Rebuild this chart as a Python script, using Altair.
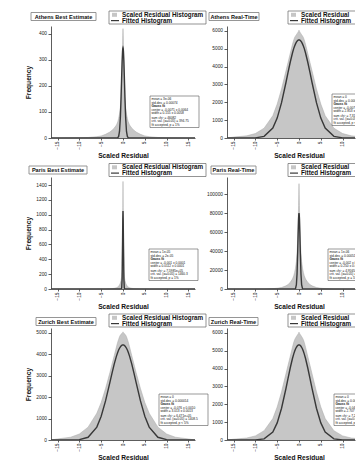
import altair as alt
import pandas as pd

FONT = "Liberation Sans"
GRAY_FILL = "#c6c6c6"
GRAY_EDGE = "#a9a9a9"
DARK = "#383838"
INK = "#111111"

# |x| sample positions (scaled residual); the histograms are symmetric
X_HALF = [0, 0.05, 0.1, 0.2, 0.3, 0.45, 0.6, 0.8, 1, 1.2, 1.5, 2, 2.5, 3, 4, 5, 6, 8, 10, 12, 15, 16.5]
X_TICKS = [-15, -10, -5, 0, 5, 10, 15]

ATH_BE_HIST = [420, 395, 360, 290, 225, 160, 118, 92, 75, 62, 50, 38, 30, 23, 14, 8, 5, 2, 1, 0.5, 0, 0]
ATH_BE_FIT = [346, 343, 332, 294, 240, 152, 80, 25, 6, 1, 0, 0, 0, 0, 0, 0, 0, 0, 0, 0, 0, 0]
ATH_RT_HIST = [6050, 6020, 5990, 5950, 5900, 5850, 5790, 5720, 5640, 5500, 5250, 4750, 4250, 3750, 2750, 1900, 1250, 550, 250, 120, 50, 0]
ATH_RT_FIT = [5500, 5500, 5496, 5486, 5468, 5430, 5374, 5277, 5160, 5025, 4765, 4262, 3692, 3098, 1982, 1117, 554, 93, 9, 0, 0, 0]
PAR_BE_HIST = [1450, 1100, 650, 260, 170, 115, 80, 55, 38, 26, 16, 9, 5, 3, 1.5, 1, 0.5, 0, 0, 0, 0, 0]
PAR_BE_FIT = [1050, 927, 637, 142, 12, 0, 0, 0, 0, 0, 0, 0, 0, 0, 0, 0, 0, 0, 0, 0, 0, 0]
PAR_RT_HIST = [111000, 100000, 88000, 68000, 52000, 38000, 29000, 22000, 17500, 14000, 10500, 7000, 4800, 3300, 1600, 800, 400, 120, 40, 15, 5, 0]
PAR_RT_FIT = [80000, 78400, 73850, 58100, 38950, 15850, 4490, 480, 27, 0, 0, 0, 0, 0, 0, 0, 0, 0, 0, 0, 0, 0]
ZUR_BE_HIST = [5050, 5030, 5010, 4990, 4970, 4940, 4900, 4820, 4700, 4580, 4350, 3950, 3550, 3150, 2400, 1750, 1250, 600, 280, 130, 50, 0]
ZUR_BE_FIT = [4440, 4440, 4438, 4430, 4418, 4390, 4352, 4284, 4200, 4100, 3918, 3557, 3138, 2693, 1825, 1107, 601, 127, 17, 1, 0, 0]
ZUR_RT_HIST = [6050, 6020, 5990, 5950, 5910, 5860, 5800, 5720, 5620, 5480, 5200, 4700, 4200, 3700, 2700, 1850, 1200, 520, 230, 110, 45, 0]
ZUR_RT_FIT = [5330, 5330, 5326, 5315, 5297, 5256, 5200, 5101, 4977, 4830, 4568, 4052, 3472, 2875, 1779, 959, 451, 66, 6, 0, 0, 0]

TITLES = ["Athens Best Estimate", "Athens Real-Time", "Paris Best Estimate",
          "Paris Real-Time", "Zurich Best Estimate", "Zurich Real-Time"]
Y_TOPS = [430, 6280, 1510, 118000, 5230, 6280]
Y_TICKS = [
    [0, 100, 200, 300, 400],
    [0, 1000, 2000, 3000, 4000, 5000, 6000],
    [0, 200, 400, 600, 800, 1000, 1200, 1400],
    [0, 20000, 40000, 60000, 80000, 100000],
    [0, 1000, 2000, 3000, 4000, 5000],
    [0, 1000, 2000, 3000, 4000, 5000, 6000],
]
LEGEND_LABELS = ["Scaled Residual Histogram", "Fitted Histogram"]
STATS = [
    ["mean = 3e-06", "std.dev. = 0.00074", "Gauss fit", "center = -0.0071 ± 0.0064",
     "width = 0.155 ± 0.0058", "sum chi² = 46082", "crit. val. (α=0.05) = 394.75", "fit accepted, p = 1%"],
    ["mean = 0", "std.dev. = 0.00012", "Gauss fit", "center = -0.007 ± 0.0043",
     "width = 2.853 ± 0.0043", "sum chi² = 7.3133e+05", "crit. val. (α=0.05) = 1424.7", "fit accepted, p < 1%"],
    ["mean = 1e-05", "std.dev. = 2e-05", "Gauss fit", "center = -0.001 ± 0.0001",
     "width = 0.0112 ± 0.0001", "sum chi² = 7.5985e+05", "crit. val. (α=0.05) = 1460.3", "fit accepted, p = 1%"],
    ["mean = 1e-06", "std.dev. = 0.00051", "Gauss fit", "center = -0.002 ± 0.0001",
     "width = 0.250 ± 0.0001", "sum chi² = 4.9565e+07", "crit. val. (α=0.05) = 1360.5", "fit accepted, p = 5%"],
    ["mean = 0", "std.dev. = 0.000014", "Gauss fit", "center = -0.076 ± 0.0010",
     "width = 3.013 ± 0.0013", "sum chi² = 6.471e+05", "crit. val. (α=0.05) = 1408.5", "fit accepted, p < 5%"],
    ["mean = 0", "std.dev. = 0.000021", "Gauss fit", "center = -0.045 ± 0.0009",
     "width = 2.707 ± 0.0012", "sum chi² = 7.2838e+05", "crit. val. (α=0.05) = 1412.2", "fit accepted, p < 5%"],
]
HISTS = [ATH_BE_HIST, ATH_RT_HIST, PAR_BE_HIST, PAR_RT_HIST, ZUR_BE_HIST, ZUR_RT_HIST]
FITS = [ATH_BE_FIT, ATH_RT_FIT, PAR_BE_FIT, PAR_RT_FIT, ZUR_BE_FIT, ZUR_RT_FIT]

# layout (pixels)
H = 112
W_LEFT, W_RIGHT = 144, 128
PX = W_LEFT / 33.0
TITLE_BOX = [(-20, 45), (-18, 32), (-22, 36), (-16, 29), (-15, 45), (-18, 31)]
ROW_LEG_TOP = [-15, -13.5, -14]
ROW_TITLE_CY = [-9.5, -7, -6.5]
STAT_BOX = [(99, 70), (105, 68), (98, 72), (101, 72), (108, 66), (107, 66)]
LABEL_SIZE = 4.8


def mirror(half):
    return list(reversed(half[1:])) + list(half)


X_FULL = [-v for v in reversed(X_HALF[1:])] + X_HALF


def one():
    return alt.Chart(pd.DataFrame({"a": [0]}))


def text_layer(s, x, y, size, bold=False, align="left", baseline="middle",
               limit=None, clip=False, line_h=None):
    kw = dict(align=align, baseline=baseline, fontSize=size, font=FONT, fill=INK)
    if bold:
        kw["fontWeight"] = "bold"
    if limit:
        kw["limit"] = limit
        kw["ellipsis"] = "\u200b"
    if clip:
        kw["clip"] = True
    if line_h:
        kw["lineBreak"] = "\n"
        kw["lineHeight"] = line_h
    return alt.Chart(pd.DataFrame({"t": [s]})).mark_text(**kw).encode(
        x=alt.value(x), y=alt.value(y), text="t:N")


def box(x0, x1, y0, y1, stroke, sw, fill="white", clip=False):
    kw = dict(fill=fill, stroke=stroke, strokeWidth=sw)
    if clip:
        kw["clip"] = True
    return one().mark_rect(**kw).encode(
        x=alt.value(x0), x2=alt.value(x1), y=alt.value(y0), y2=alt.value(y1))


def swatch(x0, x1, y0, y1):
    return one().mark_rect(fill=GRAY_FILL).encode(
        x=alt.value(x0), x2=alt.value(x1), y=alt.value(y0), y2=alt.value(y1))


def rule(x0, x1, y0, y1, color, sw):
    return one().mark_rule(color=color, strokeWidth=sw).encode(
        x=alt.value(x0), x2=alt.value(x1), y=alt.value(y0), y2=alt.value(y1))


def panel(i):
    left = i % 2 == 0
    row = i // 2
    W = W_LEFT if left else W_RIGHT
    xmax = 16.5 if left else -16.5 + W / PX
    df = pd.DataFrame({"x": X_FULL, "hist": mirror(HISTS[i]), "fit": mirror(FITS[i])})
    xs = alt.Scale(domain=[-16.5, xmax], nice=False, zero=False)
    ys = alt.Scale(domain=[0, Y_TOPS[i]], nice=False)
    xaxis = alt.Axis(values=X_TICKS if left else X_TICKS[:-1], labelAngle=-90, labelFlush=False,
                     labelOverlap=False, labelFontSize=LABEL_SIZE,
                     title="Scaled Residual", titleX=16.5 * PX,
                     titlePadding=3, tickSize=2, labelPadding=1)
    if left:
        yaxis = alt.Axis(values=Y_TICKS[i], format="d", labelOverlap=False,
                         labelFontSize=LABEL_SIZE, title="Frequency",
                         titleX=-20, titleY=H / 2, tickSize=3, labelPadding=1.5)
    else:
        yaxis = alt.Axis(values=Y_TICKS[i], format="d", labelOverlap=False,
                         labelFontSize=LABEL_SIZE, title=None, tickSize=3, labelPadding=1.5)
    base = alt.Chart(df)
    layers = [
        base.mark_area(color=GRAY_FILL, clip=True).encode(
            x=alt.X("x:Q", scale=xs, axis=xaxis), y=alt.Y("hist:Q", scale=ys, axis=yaxis)),
        base.mark_line(color=GRAY_EDGE, strokeWidth=0.5, clip=True).encode(
            x=alt.X("x:Q", scale=xs, axis=xaxis), y=alt.Y("hist:Q", scale=ys, axis=yaxis)),
        base.mark_line(color=DARK, strokeWidth=1.4, clip=True).encode(
            x=alt.X("x:Q", scale=xs, axis=xaxis), y=alt.Y("fit:Q", scale=ys, axis=yaxis)),
    ]
    tx0, tx1 = TITLE_BOX[i]
    cy = ROW_TITLE_CY[row]
    layers.append(box(tx0, tx1, cy - 4, cy + 4, "#8a8a8a", 0.9))
    layers.append(text_layer(TITLES[i], (tx0 + tx1) / 2, cy + 0.3, 5.6, bold=True, align="center"))
    lt = ROW_LEG_TOP[row]
    lx = 58 if left else 61
    if left:
        layers.append(box(lx, 155, lt, lt + 13, "#666666", 0.7))
    else:
        layers.append(rule(lx, W, lt, lt, "#666666", 0.7))
        layers.append(rule(lx, W, lt + 13, lt + 13, "#666666", 0.7))
        layers.append(rule(lx, lx, lt, lt + 13, "#666666", 0.7))
    layers.append(swatch(lx + 3, lx + 8, lt + 1.8, lt + 5.8))
    layers.append(rule(lx + 2, lx + 10, lt + 9.6, lt + 9.6, DARK, 1.2))
    lim = None if left else W - (lx + 13)
    layers.append(text_layer(LEGEND_LABELS[0], lx + 13, lt + 3.9, 6.3, bold=True, limit=lim))
    layers.append(text_layer(LEGEND_LABELS[1], lx + 13, lt + 9.8, 6.3, bold=True, limit=lim))
    sx, sy = STAT_BOX[i]
    clip = not left
    st = STATS[i]
    lh = 3.55
    layers.append(box(sx, sx + 49, sy, sy + 31.5, "#555555", 0.6, clip=clip))
    layers.append(text_layer("\n".join(st[0:2]), sx + 1.5, sy + 1.2, 3.2, baseline="top",
                             clip=clip, line_h=lh))
    layers.append(text_layer(st[2], sx + 1.5, sy + 1.2 + 2 * lh, 3.2, bold=True, baseline="top",
                             clip=clip))
    layers.append(text_layer("\n".join(st[3:5]), sx + 1.5, sy + 1.2 + 3 * lh, 3.2, baseline="top",
                             clip=clip, line_h=lh))
    layers.append(text_layer("\n".join(st[5:8]), sx + 1.5, sy + 2.2 + 5 * lh, 3.2, baseline="top",
                             clip=clip, line_h=lh))
    return alt.layer(*layers).properties(width=W, height=H)


chart = alt.concat(*[panel(i) for i in range(6)], columns=2,
                   spacing={"row": 39, "column": 32}, bounds="flush").properties(
    padding={"left": 17, "top": 2, "right": 0, "bottom": 0}
).configure(background="white").configure_view(strokeWidth=0).configure_axis(
    grid=False, labelFont=FONT, titleFont=FONT, labelColor="#222222", labelOverlap=False,
    titleFontSize=6.6, titleFontWeight="bold", titleColor=INK,
    domainColor="#333333", domainWidth=0.8, tickColor="#333333", tickWidth=0.8,
).configure_axisX(labelOverlap=False).configure_axisY(labelOverlap=False)

chart.save("out.html", embed_options={"renderer": "svg", "actions": False})
